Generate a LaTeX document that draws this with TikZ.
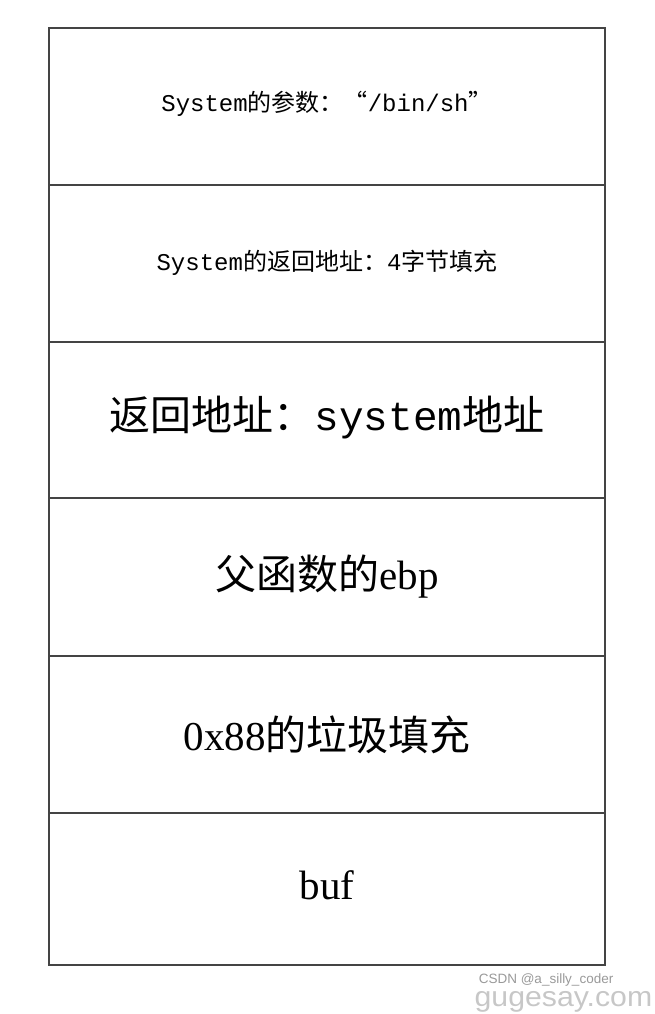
\documentclass[tikz,border=0pt]{standalone}
\usepackage{fontspec}
\setmainfont{Liberation Serif}
\newfontfamily\monofnt{Liberation Mono}
\newfontfamily\cjk{Noto Sans CJK SC}
\newfontfamily\wmfont{Liberation Sans}
\newcommand{\zh}[1]{{\cjk #1}}

\tikzset{every picture/.style={line width=1.4pt}}
\tikzset{
  stackrow/.style={draw={rgb,255:red,68;green,68;blue,68}, minimum width=556pt, inner sep=0pt, outer sep=0pt, anchor=north west},
  smalltxt/.style={font=\fontsize{24}{28}\selectfont\monofnt},
  bigtxt/.style={font=\fontsize{41}{48}\selectfont},
  wmark/.style={inner sep=0pt, anchor=base east}
}

\begin{document}
\begin{tikzpicture}[x=1pt,y=1pt,yscale=-1,xscale=1]
\useasboundingbox (0,0) rectangle (654,1014);

%Shape: Stack Rows
\node [stackrow, minimum height=157pt] (arg) at (49,28) {};
\node [stackrow, minimum height=157pt] (sysret) at (49,185) {};
\node [stackrow, minimum height=156pt] (ret) at (49,342) {};
\node [stackrow, minimum height=158pt] (ebp) at (49,498) {};
\node [stackrow, minimum height=157pt] (junk) at (49,656) {};
\node [stackrow, minimum height=152pt] (buf) at (49,813) {};

% Text Node
\node [smalltxt] (argtxt) at ([yshift=-3pt]arg.center) {System\zh{的参数：“}/bin/sh\zh{”}};
% Text Node
\node [smalltxt] (sysrettxt) at ([yshift=-1pt]sysret.center) {System\zh{的返回地址：}4\zh{字节填充}};
% Text Node
\node [bigtxt] (rettxt) at ([yshift=-2pt]ret.center) {\zh{返回地址：}{\monofnt system}\zh{地址}};
% Text Node
\node [bigtxt] (ebptxt) at (ebp.center) {\zh{父函数的}ebp};
% Text Node
\node [bigtxt] (junktxt) at (junk.center) {0x88\zh{的垃圾填充}};
% Text Node
\node [bigtxt] (buftxt) at ([yshift=-4pt]buf.center) {buf};

% Watermark
\node [wmark, font=\fontsize{13.5}{16}\selectfont\wmfont, text=black!40] (csdn) at (614,983) {CSDN @a\_silly\_coder};
\node [wmark, font=\fontsize{28}{30}\selectfont\wmfont, text=black!22, xscale=1.08] (guge) at (653,1006) {gugesay.com};

\end{tikzpicture}
\end{document}
